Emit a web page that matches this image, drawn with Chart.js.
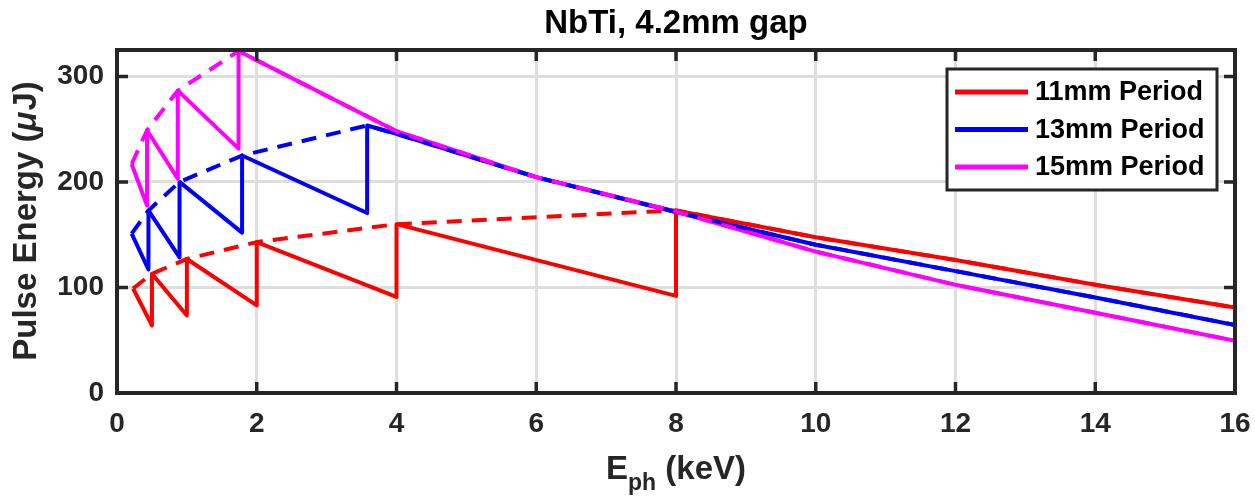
<!DOCTYPE html>
<html>
<head>
<meta charset="utf-8">
<script src="https://cdn.jsdelivr.net/npm/chart.js@4.4.1/dist/chart.umd.min.js"></script>
<style>
  html, body { margin: 0; padding: 0; background: #fff; }
  #wrap { width: 1255px; height: 501px; }
</style>
</head>
<body>
<div id="wrap"><canvas id="chart" width="1255" height="501"></canvas></div>
<script>
// photon energy (keV) and pulse energy (uJ)
var eph11 = [0.23, 0.5, 0.5, 1, 1, 2, 2, 4, 4, 8, 8, 10, 12, 14, 16];
var pulse11 = [99, 64, 113, 73.5, 127, 83, 143, 91, 160, 92, 173, 147.5, 126, 102.5, 81];
var eph11Peak = [0.23, 0.5, 1, 2, 4, 8, 10, 12, 14, 16];
var pulse11Peak = [99, 113, 127, 143, 160, 173, 147.5, 126, 102.5, 81];

var eph13 = [0.21, 0.45, 0.45, 0.895, 0.895, 1.79, 1.79, 3.58, 3.58, 4, 6, 8, 10, 12, 14, 16];
var pulse13 = [151, 117, 173, 128.5, 200, 152, 225, 170.5, 253.5, 245.5, 204.5, 171.5, 140.5, 115.5, 90.5, 64.5];
var eph13Peak = [0.21, 0.45, 0.895, 1.79, 3.58, 4, 6, 8, 10, 12, 14, 16];
var pulse13Peak = [151, 173, 200, 225, 253.5, 245.5, 204.5, 171.5, 140.5, 115.5, 90.5, 64.5];

var eph15 = [0.21, 0.43, 0.43, 0.87, 0.87, 1.74, 1.74, 4, 6, 8, 10, 12, 14, 16];
var pulse15 = [217, 177.5, 249, 203, 286.5, 231.5, 324, 248, 204.5, 172, 134, 102.5, 76, 49.5];
var eph15Peak = [0.21, 0.43, 0.87, 1.74, 4, 6, 8, 10, 12, 14, 16];
var pulse15Peak = [217, 249, 286.5, 324, 248, 204.5, 172, 134, 102.5, 76, 49.5];

var seriesNames = ["11mm Period", "13mm Period", "15mm Period"];
var seriesColors = ["#ff0000", "#0000ff", "#ff00ff"];

var xTicks = [0, 2, 4, 6, 8, 10, 12, 14, 16];
var yTicks = [0, 100, 200, 300];

var FONT = "'Liberation Sans', Arial, sans-serif";
var AXIS = "#262626";

function pts(xs, ys){
    let out = [];
    for (let i = 0; i < xs.length; i++) out.push({x: xs[i], y: ys[i]});
    return out;
}

function solid(i, xs, ys, order){
    return {
        label: seriesNames[i],
        data: pts(xs, ys),
        borderColor: seriesColors[i],
        borderWidth: 4,
        borderJoinStyle: "round",
        pointRadius: 0,
        tension: 0,
        fill: false,
        order: order
    };
}

function dashed(i, xs, ys, order){
    let d = solid(i, xs, ys, order);
    d.label = "";
    d.borderDash = [15, 10];
    d.borderCapStyle = "butt";
    return d;
}

// draws the MATLAB-like box, inward ticks, titles and the inset legend
var decor = {
    id: "decor",
    afterDraw: function(chart){
        let ctx = chart.ctx;
        let a = chart.chartArea;
        let xs = chart.scales.x, ys = chart.scales.y;
        ctx.save();

        ctx.strokeStyle = AXIS;
        ctx.lineWidth = 3.5;
        xTicks.forEach(function(v){
            if (v === 0 || v === 16) return;
            let p = xs.getPixelForValue(v);
            ctx.beginPath();
            ctx.moveTo(p, a.bottom); ctx.lineTo(p, a.bottom - 11);
            ctx.moveTo(p, a.top); ctx.lineTo(p, a.top + 11);
            ctx.stroke();
        });
        yTicks.forEach(function(v){
            if (v === 0) return;
            let p = ys.getPixelForValue(v);
            ctx.beginPath();
            ctx.moveTo(a.left, p); ctx.lineTo(a.left + 11, p);
            ctx.moveTo(a.right, p); ctx.lineTo(a.right - 11, p);
            ctx.stroke();
        });
        ctx.lineWidth = 4;
        ctx.strokeRect(a.left, a.top, a.right - a.left, a.bottom - a.top);

        // title
        ctx.fillStyle = "#000";
        ctx.font = "bold 33px " + FONT;
        ctx.textAlign = "center";
        ctx.textBaseline = "alphabetic";
        ctx.fillText("NbTi, 4.2mm gap", (a.left + a.right) / 2, 33);

        // x title with subscript
        ctx.fillStyle = AXIS;
        let big = "bold 33px " + FONT, small = "bold 23px " + FONT;
        ctx.textAlign = "left";
        ctx.font = big; let wE = ctx.measureText("E").width;
        ctx.font = small; let wS = ctx.measureText("ph").width;
        ctx.font = big; let wR = ctx.measureText(" (keV)").width;
        let x0 = (a.left + a.right) / 2 - (wE + wS + wR) / 2;
        ctx.font = big; ctx.fillText("E", x0, 479);
        ctx.font = small; ctx.fillText("ph", x0 + wE, 490);
        ctx.font = big; ctx.fillText(" (keV)", x0 + wE + wS, 479);

        // y title, rotated, with italic mu
        ctx.save();
        ctx.translate(36, (a.top + a.bottom) / 2);
        ctx.rotate(-Math.PI / 2);
        let f1 = "bold 33px " + FONT, f2 = "italic bold 33px " + FONT;
        ctx.font = f1; let w1 = ctx.measureText("Pulse Energy (").width;
        ctx.font = f2; let w2 = ctx.measureText("\u03bc").width;
        ctx.font = f1; let w3 = ctx.measureText("J)").width;
        let s = -(w1 + w2 + w3) / 2;
        ctx.font = f1; ctx.fillText("Pulse Energy (", s, 0);
        ctx.font = f2; ctx.fillText("\u03bc", s + w1, 0);
        ctx.font = f1; ctx.fillText("J)", s + w1 + w2 + 1, 0);
        ctx.restore();

        // legend inset
        let lx = a.right - 288, ly = a.top + 19, lw = 270, lh = 121;
        ctx.fillStyle = "#fff";
        ctx.fillRect(lx, ly, lw, lh);
        ctx.lineWidth = 3;
        ctx.strokeStyle = AXIS;
        ctx.strokeRect(lx, ly, lw, lh);
        ctx.font = "bold 27px " + FONT;
        ctx.textBaseline = "middle";
        for (let i = 0; i < 3; i++) {
            let yy = ly + 23 + i * 37.5;
            ctx.strokeStyle = seriesColors[i];
            ctx.lineWidth = 5;
            ctx.beginPath();
            ctx.moveTo(lx + 8, yy); ctx.lineTo(lx + 81, yy);
            ctx.stroke();
            ctx.fillStyle = "#000";
            ctx.fillText(seriesNames[i], lx + 88, yy + 1);
        }
        ctx.restore();
    }
};

var config = {
    type: "line",
    data: {
        datasets: [
            solid(0, eph11, pulse11, 6),
            solid(1, eph13, pulse13, 5),
            solid(2, eph15, pulse15, 4),
            dashed(0, eph11Peak, pulse11Peak, 3),
            dashed(1, eph13Peak, pulse13Peak, 2),
            dashed(2, eph15Peak, pulse15Peak, 1)
        ]
    },
    options: {
        responsive: false,
        animation: false,
        devicePixelRatio: 1,
        layout: { padding: { top: 50, right: 20, left: 0, bottom: 0 } },
        plugins: {
            legend: { display: false },
            title: { display: false },
            tooltip: { enabled: false }
        },
        scales: {
            x: {
                type: "linear",
                min: 0,
                max: 16,
                afterFit: function(s){ s.height = 108; s.paddingLeft = 0; s.paddingRight = 0; },
                afterBuildTicks: function(s){ s.ticks = xTicks.map(function(v){ return {value: v}; }); },
                ticks: { padding: 14, color: AXIS, font: { family: FONT, size: 28, weight: "bold" }, maxRotation: 0 },
                grid: { color: "#dedede", lineWidth: 3, drawTicks: false },
                border: { display: false }
            },
            y: {
                type: "linear",
                min: 0,
                max: 325,
                afterFit: function(s){ s.width = 117; s.paddingTop = 0; s.paddingBottom = 0; },
                afterBuildTicks: function(s){ s.ticks = yTicks.map(function(v){ return {value: v}; }); },
                ticks: { padding: 13, color: AXIS, font: { family: FONT, size: 28, weight: "bold" } },
                grid: { color: "#dedede", lineWidth: 3, drawTicks: false },
                border: { display: false }
            }
        }
    },
    plugins: [decor]
};

var chart = new Chart(document.getElementById("chart"), config);
</script>
</body>
</html>
